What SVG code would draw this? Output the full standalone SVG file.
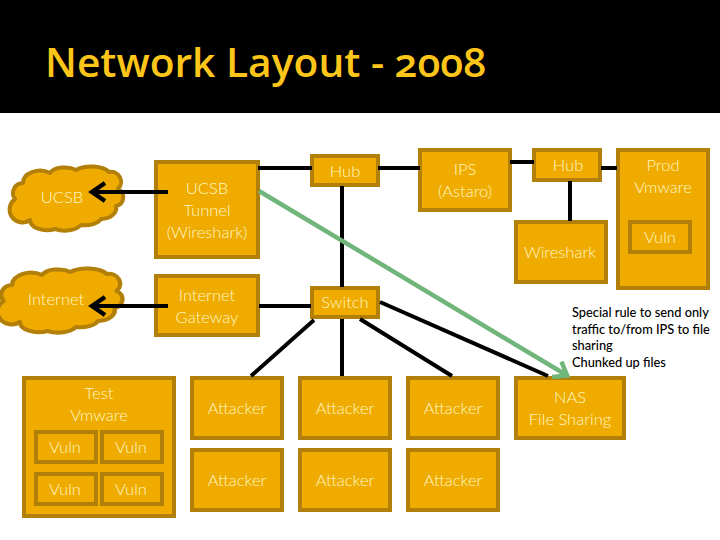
<svg xmlns="http://www.w3.org/2000/svg" width="720" height="540" viewBox="0 0 720 540">
<style>
.b{fill:#efab00;stroke:#b27f08;stroke-width:4}
.c{fill:#efab00;stroke:#b27f08;stroke-width:4;stroke-linejoin:round}
text{font-family:Lato,"Open Sans",sans-serif}
.t{fill:#fff8c4;font-size:16.5px;font-weight:300;text-anchor:middle}
.n{fill:#000;font-size:12.8px;font-weight:500}
.l{fill:none;stroke:#000;stroke-width:4}
.g{fill:none;stroke:#70b67a;stroke-width:4.5}
</style>
<defs>
<marker id="ab" markerUnits="userSpaceOnUse" markerWidth="24" markerHeight="24" refX="19" refY="12" orient="auto">
<path d="M5 3 L18 12 L5 21" fill="none" stroke="#000" stroke-width="4.5"/>
</marker>
<marker id="ag" markerUnits="userSpaceOnUse" markerWidth="24" markerHeight="24" refX="20" refY="12" orient="auto">
<path d="M7 3 L19 12 L7 21" fill="none" stroke="#70b67a" stroke-width="4.5"/>
</marker>
<path id="cloud" d="M14 199 A10 10 0 0 1 22 183 A17 12 0 0 1 49 173 A16 9 0 0 1 75 170 A20 10 0 0 1 108 172 A10 10 0 0 1 117 189 A9 9 0 0 1 115 206 A15 11 0 0 1 100 219 A17 9 0 0 1 80 225 A18 10 0 0 1 54 229 A17 10 0 0 1 29 220 A10 10 0 0 1 14 199 Z"/>
</defs>
<rect width="720" height="540" fill="#fff"/>
<rect width="720" height="113" fill="#000"/>
<text x="45" y="77" fill="#ffc61a" font-size="40" style="font-family:'Open Sans',Lato,sans-serif;font-variant-numeric:oldstyle-nums;font-weight:600" textLength="441" lengthAdjust="spacingAndGlyphs">Network Layout - 2008</text>

<g id="cloud-ucsb"><use href="#cloud" class="c" transform="translate(1 0)"/><text class="t" x="62" y="203">UCSB</text></g>
<g id="cloud-internet"><use href="#cloud" class="c" transform="translate(-12 102) scale(1.1 1)"/><text class="t" x="56" y="305">Internet</text></g>
<g id="tunnel"><rect class="b" x="156" y="162" width="102" height="95"/><text class="t" x="207" y="194">UCSB</text><text class="t" x="207" y="216">Tunnel</text><text class="t" x="207" y="238">(Wireshark)</text></g>
<g id="gateway"><rect class="b" x="156" y="276" width="102" height="59"/><text class="t" x="207" y="301">Internet</text><text class="t" x="207" y="323">Gateway</text></g>
<g id="hub1"><rect class="b" x="312" y="156" width="66" height="29"/><text class="t" x="345" y="177">Hub</text></g>
<g id="switch"><rect class="b" x="312" y="288" width="66" height="29"/><text class="t" x="345" y="308">Switch</text></g>
<g id="ips"><rect class="b" x="420" y="150" width="90" height="60"/><text class="t" x="465" y="175">IPS</text><text class="t" x="465" y="197">(Astaro)</text></g>
<g id="hub2"><rect class="b" x="534" y="150" width="66" height="30"/><text class="t" x="568" y="171">Hub</text></g>
<g id="wireshark"><rect class="b" x="516" y="222" width="90" height="60"/><text class="t" x="560" y="258">Wireshark</text></g>
<g id="prod"><rect class="b" x="618" y="150" width="90" height="138"/><text class="t" x="663" y="171">Prod</text><text class="t" x="663" y="193">Vmware</text>
<rect class="b" x="630" y="222" width="60" height="30"/><text class="t" x="660" y="243">Vuln</text></g>
<g id="test"><rect class="b" x="24" y="378" width="150" height="138"/><text class="t" x="99" y="399">Test</text><text class="t" x="99" y="421">Vmware</text>
<rect class="b" x="36" y="432" width="60" height="30"/><text class="t" x="65" y="453">Vuln</text>
<rect class="b" x="102" y="432" width="60" height="30"/><text class="t" x="131" y="453">Vuln</text>
<rect class="b" x="36" y="474" width="60" height="30"/><text class="t" x="65" y="495">Vuln</text>
<rect class="b" x="102" y="474" width="60" height="30"/><text class="t" x="131" y="495">Vuln</text></g>
<g id="att1"><rect class="b" x="192" y="378" width="90" height="60"/><text class="t" x="237" y="414">Attacker</text></g>
<g id="att2"><rect class="b" x="300" y="378" width="90" height="60"/><text class="t" x="345" y="414">Attacker</text></g>
<g id="att3"><rect class="b" x="408" y="378" width="90" height="60"/><text class="t" x="453" y="414">Attacker</text></g>
<g id="att4"><rect class="b" x="192" y="450" width="90" height="60"/><text class="t" x="237" y="486">Attacker</text></g>
<g id="att5"><rect class="b" x="300" y="450" width="90" height="60"/><text class="t" x="345" y="486">Attacker</text></g>
<g id="att6"><rect class="b" x="408" y="450" width="90" height="60"/><text class="t" x="453" y="486">Attacker</text></g>
<g id="nas"><rect class="b" x="516" y="378" width="108" height="60"/><text class="t" x="570" y="403">NAS</text><text class="t" x="570" y="425">File Sharing</text></g>
<g id="note"><text class="n" x="572" y="317">Special rule to send only</text><text class="n" x="572" y="334">traffic to/from IPS to file</text><text class="n" x="572" y="350">sharing</text><text class="n" x="572" y="367">Chunked up files</text></g>

<g id="connectors">
<line class="l" x1="168" y1="192" x2="91" y2="192" marker-end="url(#ab)"/>
<line class="l" x1="168" y1="306" x2="91" y2="306" marker-end="url(#ab)"/>
<line class="l" x1="258" y1="168" x2="312" y2="168"/>
<line class="l" x1="342" y1="186" x2="342" y2="287"/>
<line class="l" x1="378" y1="168" x2="420" y2="168"/>
<line class="l" x1="510" y1="162" x2="534" y2="162"/>
<line class="l" x1="601" y1="168" x2="617" y2="168"/>
<line class="l" x1="570" y1="181" x2="570" y2="221"/>
<line class="l" x1="259" y1="306" x2="311" y2="306"/>
<line class="l" x1="314" y1="320" x2="251" y2="376"/>
<line class="l" x1="342" y1="319" x2="342" y2="376"/>
<line class="l" x1="360" y1="319" x2="452" y2="376"/>
<line class="l" x1="380" y1="302" x2="548" y2="376"/>
<line class="g" x1="259" y1="191" x2="568" y2="376" marker-end="url(#ag)"/>
</g>
</svg>
